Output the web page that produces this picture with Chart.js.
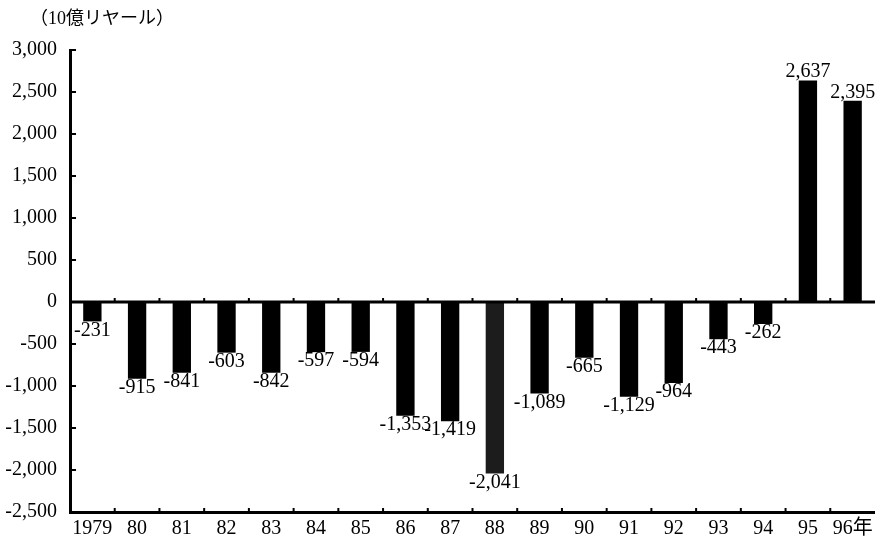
<!DOCTYPE html>
<html>
<head>
<meta charset="utf-8">
<script src="https://cdn.jsdelivr.net/npm/chart.js@4.4.1/dist/chart.umd.min.js"></script>
<style>
  html, body { margin: 0; padding: 0; background: #fff; }
  canvas { display: block; }
</style>
</head>
<body>
<canvas id="chart" width="875" height="537"></canvas>
<script>
// Trade balance by year (unit: 10 billion riyal)
const years = ['1979', '80', '81', '82', '83', '84', '85', '86', '87', '88',
               '89', '90', '91', '92', '93', '94', '95', '96年'];
const balance = [-231, -915, -841, -603, -842, -597, -594, -1353, -1419, -2041,
                 -1089, -665, -1129, -964, -443, -262, 2637, 2395];
const yTicks = [-2500, -2000, -1500, -1000, -500, 0, 500, 1000, 1500, 2000, 2500, 3000];
const unitLabel = '（10億リヤール）';

const SERIF = '"Liberation Serif", "DejaVu Serif", "Noto Sans CJK JP", serif';
const fmt = v => v.toLocaleString('en-US');

const barColors = years.map(y => (y === '88' ? '#1c1c1c' : '#000000'));

// Inward tick marks, the zero line and the unit caption
const axisMarks = {
  id: 'axisMarks',
  afterDatasetsDraw(chart) {
    const { ctx, chartArea: a, scales: { x, y } } = chart;
    ctx.save();
    ctx.strokeStyle = '#000';
    ctx.lineCap = 'butt';

    // zero line across the plot
    const y0 = y.getPixelForValue(0);
    ctx.lineWidth = 3;
    ctx.beginPath();
    ctx.moveTo(a.left, y0);
    ctx.lineTo(a.right, y0);
    ctx.stroke();

    // y ticks pointing into the plot
    ctx.lineWidth = 2;
    yTicks.forEach(v => {
      const py = y.getPixelForValue(v);
      ctx.beginPath();
      ctx.moveTo(a.left, py);
      ctx.lineTo(a.left + 6, py);
      ctx.stroke();
    });

    // small upward ticks between categories, on the zero line and the bottom axis
    const step = x.getPixelForValue(1) - x.getPixelForValue(0);
    for (let i = 1; i < years.length; i++) {
      const px = x.getPixelForValue(i) - step / 2;
      [y0, a.bottom].forEach(base => {
        ctx.beginPath();
        ctx.moveTo(px, base);
        ctx.lineTo(px, base - 4);
        ctx.stroke();
      });
    }

    // unit caption
    ctx.fillStyle = '#000';
    ctx.font = '18px ' + SERIF;
    ctx.textAlign = 'left';
    ctx.textBaseline = 'top';
    ctx.fillText(unitLabel, 30, 10);
    ctx.restore();
  }
};

// Value labels beside each bar end
const valueLabels = {
  id: 'valueLabels',
  afterDatasetsDraw(chart) {
    const { ctx } = chart;
    const meta = chart.getDatasetMeta(0);
    ctx.save();
    ctx.fillStyle = '#000';
    ctx.font = '20px ' + SERIF;
    ctx.textAlign = 'center';
    meta.data.forEach((bar, i) => {
      const v = balance[i];
      if (v < 0) {
        ctx.textBaseline = 'top';
        ctx.fillText(fmt(v), bar.x, bar.y - 1);
      } else {
        ctx.textBaseline = 'alphabetic';
        ctx.fillText(fmt(v), bar.x, bar.y - 3);
      }
    });
    ctx.restore();
  }
};

new Chart(document.getElementById('chart'), {
  type: 'bar',
  data: {
    labels: years,
    datasets: [{
      data: balance,
      backgroundColor: barColors,
      borderWidth: 0,
      categoryPercentage: 1,
      barPercentage: 0.41
    }]
  },
  options: {
    responsive: false,
    animation: false,
    devicePixelRatio: 1,
    layout: { padding: { top: 50, right: 0, left: 0, bottom: 0 } },
    plugins: {
      legend: { display: false },
      tooltip: { enabled: false }
    },
    scales: {
      x: {
        grid: { display: false, drawTicks: false },
        border: { display: true, color: '#000', width: 3 },
        ticks: {
          color: '#000',
          font: { family: SERIF, size: 20 },
          padding: 5,
          maxRotation: 0,
          autoSkip: false
        },
        afterFit(scale) {
          scale.height = 24;
          scale.paddingLeft = 0;
          scale.paddingRight = 0;
        }
      },
      y: {
        min: -2500,
        max: 3000,
        grid: { display: false, drawTicks: false },
        border: { display: true, color: '#000', width: 3 },
        afterBuildTicks(scale) { scale.ticks = yTicks.map(v => ({ value: v })); },
        ticks: {
          color: '#000',
          font: { family: SERIF, size: 20 },
          padding: 13,
          callback: v => fmt(v)
        },
        afterFit(scale) { scale.width = 70; }
      }
    }
  },
  plugins: [axisMarks, valueLabels]
});
</script>
</body>
</html>
